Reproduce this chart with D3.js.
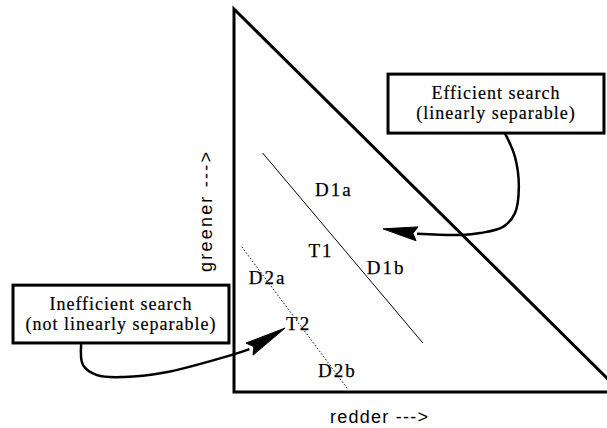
<!DOCTYPE html>
<html>
  <head>
    <meta charset="UTF-8">
    <title>Linear separability in colour space</title>
  <style type="text/css">
    body { margin: 0; background: #fff; }
    .serif { font-family: 'Liberation Serif', 'Times New Roman', serif; fill: #000; }
    .sans { font-family: 'Liberation Sans', Arial, sans-serif; fill: #000; }
  </style>
  </head>
  <body>
    <script src="https://cdn.jsdelivr.net/npm/d3@7"></script>
    <script>

      // Colour space: x = redness, y = greenness (0..100)
      var triangle = [[0, 0], [100, 0], [0, 100]];
      var boundaryD1 = [[7.4, 62.4], [48.8, 12.8]];
      var boundaryD2 = [[2.0, 37.9], [29.6, 0.5]];

      var itemNames = ["D1a", "T1", "D1b", "D2a", "T2", "D2b"];
      var itemX = [25.8, 22.5, 39.3, 8.7, 16.7, 26.7];
      var itemY = [53.0, 37.1, 32.6, 30.0, 17.8, 5.7];

      // callouts
      var calloutLines = [["Efficient search", "(linearly separable)"],
                          ["Inefficient search", "(not linearly separable)"]];
      var calloutBoxes = [[39.8, 95.6, 67.6, 83.0], [-57.1, -1.3, 12.8, 27.9]];
      var calloutPaths = [
        [[70.0, 67.6], [72.6, 61.4], [73.6, 53.5], [72.6, 46.7], [69.5, 43.1], [63.6, 41.5], [58.7, 41.0], [47.3, 41.3]],
        [[-39.5, 12.5], [-39.0, 7.0], [-35.4, 4.4], [-28.4, 3.9], [-18.3, 5.0], [-0.5, 9.7], [4.0, 11.2]]
      ];
      var calloutTips = [[38.5, 42.6], [13.2, 16.7]];

      var axisLabels = ["redder --->", "greener --->"];

      var svgWidth = 607,
          svgHeight = 428;

      var svg = d3.select("body")
                  .append("svg")
                  .attr("width", svgWidth)
                  .attr("height", svgHeight);

      var xScale = d3.scaleLinear().domain([0, 100]).range([234, 621]);
      var yScale = d3.scaleLinear().domain([0, 100]).range([392, 9]);

      var line = d3.line()
                   .x(d => xScale(d[0]))
                   .y(d => yScale(d[1]));

      // triangle
      svg.append("path")
         .attr("d", line(triangle) + "Z")
         .attr("fill", "none")
         .attr("stroke", "#000")
         .attr("stroke-width", 3)
         .attr("stroke-linejoin", "miter");

      // boundaries
      svg.append("path")
         .attr("d", line(boundaryD1))
         .attr("stroke", "#000")
         .attr("stroke-width", 1);

      svg.append("path")
         .attr("d", line(boundaryD2))
         .attr("stroke", "#000")
         .attr("stroke-width", 1)
         .attr("stroke-dasharray", "1.5,2");

      // item labels
      svg.selectAll("text.item")
         .data(itemNames)
         .enter()
         .append("text")
         .attr("class", "item serif")
         .attr("x", (d, i) => xScale(itemX[i]))
         .attr("y", (d, i) => yScale(itemY[i]))
         .attr("dy", "0.35em")
         .attr("text-anchor", "middle")
         .attr("font-size", 19)
         .attr("letter-spacing", 2)
         .attr("stroke", "#000")
         .attr("stroke-width", 0.25)
         .text(d => d);

      // callout boxes
      calloutBoxes.forEach(function(b, i) {
        var x0 = xScale(b[0]), x1 = xScale(b[1]),
            y0 = yScale(b[3]), y1 = yScale(b[2]);
        svg.append("rect")
           .attr("x", x0)
           .attr("y", y0)
           .attr("width", x1 - x0)
           .attr("height", y1 - y0)
           .attr("fill", "#fff")
           .attr("stroke", "#000")
           .attr("stroke-width", 3);

        svg.selectAll("text.c" + i)
           .data(calloutLines[i])
           .enter()
           .append("text")
           .attr("class", "c" + i + " serif")
           .attr("x", (x0 + x1) / 2)
           .attr("y", (d, j) => y0 + 25 + j * 20)
           .attr("text-anchor", "middle")
           .attr("font-size", 18)
           .attr("letter-spacing", 1)
           .attr("stroke", "#000")
           .attr("stroke-width", 0.2)
           .text(d => d);
      });

      // callout arrows
      var curve = d3.line()
                    .x(d => xScale(d[0]))
                    .y(d => yScale(d[1]))
                    .curve(d3.curveCatmullRom);

      calloutPaths.forEach(function(p, i) {
        svg.append("path")
           .attr("d", curve(p))
           .attr("fill", "none")
           .attr("stroke", "#000")
           .attr("stroke-width", 2.5);

        // arrowhead from last curve point to tip
        var bx = xScale(p[p.length - 1][0]), by = yScale(p[p.length - 1][1]),
            tx = xScale(calloutTips[i][0]), ty = yScale(calloutTips[i][1]);
        var dx = tx - bx, dy = ty - by, len = Math.sqrt(dx * dx + dy * dy);
        var nx = -dy / len, ny = dx / len, w = 7;
        svg.append("path")
           .attr("d", "M" + tx + "," + ty +
                      "L" + (bx + nx * w) + "," + (by + ny * w) +
                      "L" + (bx + dx * 0.12) + "," + (by + dy * 0.12) +
                      "L" + (bx - nx * w) + "," + (by - ny * w) + "Z")
           .attr("fill", "#000")
           .attr("stroke", "#000")
           .attr("stroke-width", 1);
      });

      // axis labels
      svg.append("text")
         .attr("class", "sans")
         .attr("x", 379)
         .attr("y", 423)
         .attr("text-anchor", "middle")
         .attr("font-size", 18)
         .attr("textLength", 98)
         .attr("lengthAdjust", "spacing")
         .text(axisLabels[0]);

      svg.append("text")
         .attr("class", "sans")
         .attr("transform", "translate(212,212) rotate(-90)")
         .attr("text-anchor", "middle")
         .attr("font-size", 18)
         .attr("textLength", 120)
         .attr("lengthAdjust", "spacing")
         .text(axisLabels[1]);

    </script>
  </body>
</html>
